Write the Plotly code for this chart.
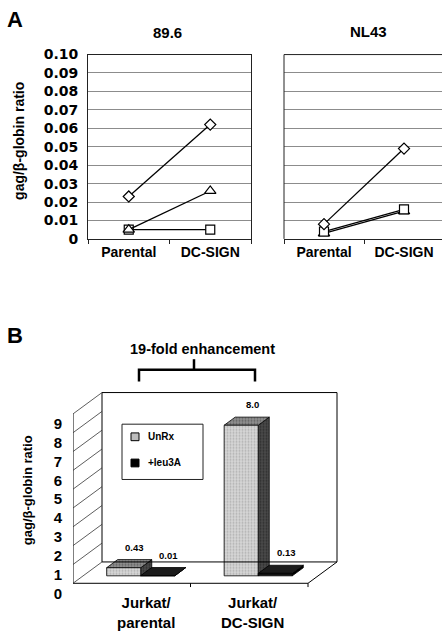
import plotly.graph_objects as go

W, H = 444, 636

# ---------------- data ----------------
categories_a = ["Parental", "DC-SIGN"]
ticks_a = [0, 0.01, 0.02, 0.03, 0.04, 0.05, 0.06, 0.07, 0.08, 0.09, 0.10]
tick_text_a = ["0", "0.01", "0.02", "0.03", "0.04", "0.05", "0.06", "0.07", "0.08", "0.09", "0.10"]

v89_diamond = [0.023, 0.062]
v89_triangle = [0.005, 0.026]
v89_square = [0.005, 0.005]

nl43_diamond = [0.008, 0.049]
nl43_square = [0.004, 0.016]
nl43_triangle = [0.003, 0.015]

categories_b = ["Jurkat/<br>parental", "Jurkat/<br>DC-SIGN"]
series_b = ["UnRx", "+leu3A"]
unrx_values = [0.43, 8.0]
leu3a_values = [0.01, 0.13]
unrx_labels = ["0.43", "8.0"]
leu3a_labels = ["0.01", "0.13"]
ticks_b = [0, 1, 2, 3, 4, 5, 6, 7, 8, 9]


def px(x):
    return x / W


def py(y):
    return 1 - y / H


BOLD = "Liberation Sans"
fig = go.Figure()

# ---------------- panel A ----------------
line_style = dict(color="black", width=1.3)


def add_series(xa, ya, values, symbol, size):
    fig.add_trace(go.Scatter(
        x=categories_a, y=values, mode="lines+markers",
        line=line_style,
        marker=dict(symbol=symbol, size=size, color="white",
                    line=dict(color="black", width=1.2)),
        xaxis=xa, yaxis=ya, showlegend=False, hoverinfo="skip"))


add_series("x", "y", v89_square, "square", 9)
add_series("x", "y", v89_triangle, "triangle-up", 10)
add_series("x", "y", v89_diamond, "diamond", 8.5)
add_series("x2", "y2", nl43_triangle, "triangle-up", 10)
add_series("x2", "y2", nl43_square, "square", 9)
add_series("x2", "y2", nl43_diamond, "diamond", 8.5)

xa_common = dict(type="category", range=[-0.5, 1.5], showline=True, linecolor="#222",
                 linewidth=1, ticks="outside", tickson="boundaries", ticklen=4,
                 tickcolor="#222", showgrid=False, zeroline=False,
                 tickfont=dict(family=BOLD, size=14, color="black", weight="bold"))
ya_common = dict(range=[0, 0.1], tickvals=ticks_a, ticktext=tick_text_a, showgrid=True,
                 gridcolor="#8c8c8c", gridwidth=1, linecolor="#222",
                 linewidth=1, ticks="", zeroline=False)

layout = dict(
    width=W, height=H, margin=dict(l=0, r=0, t=0, b=0),
    paper_bgcolor="white", plot_bgcolor="white", showlegend=False,
    xaxis=dict(domain=[px(88), px(251)], anchor="y", mirror=True, **xa_common),
    yaxis=dict(domain=[py(238), py(48)], anchor="x", mirror=True, showline=True,
               tickfont=dict(family="DejaVu Sans", size=14, color="black", weight="bold"),
               ticklabelstandoff=6, **ya_common),
    xaxis2=dict(domain=[px(284), 1.0], anchor="y2", mirror=False, **xa_common),
    yaxis2=dict(domain=[py(238), py(48)], anchor="x2", showticklabels=False,
                showline=False, mirror=False, **ya_common),
)

# ---------------- panel B (oblique 3-D bars) ----------------
CAT_PX = 117.5
UNIT_PX = 19.4
DX = 29 / CAT_PX          # depth offset in category units
DY = 22 / UNIT_PX         # depth offset in value units
BAR_W = 0.29
D0, D1 = 0.35, 0.73

layout["xaxis3"] = dict(domain=[px(73), px(345)], anchor="y3",
                        range=[-0.5, -0.5 + (345 - 73) / CAT_PX],
                        visible=False)
layout["yaxis3"] = dict(domain=[py(600), py(390)], anchor="x3",
                        range=[(593 - 600) / UNIT_PX, (593 - 390) / UNIT_PX],
                        tickvals=ticks_b, ticktext=[str(t) for t in ticks_b],
                        showgrid=False, zeroline=False, showline=False, ticks="",
                        ticklabelstandoff=10, ticklabelshift=10,
                        tickfont=dict(family=BOLD, size=15, color="black", weight="bold"))

shapes = []
# top and left borders of the NL43 panel (its right side is open, cut by the page edge)
shapes.append(dict(xref="x2 domain", yref="y2 domain", type="line", x0=0, x1=1, y0=1, y1=1,
                   line=dict(color="#222", width=1)))
shapes.append(dict(xref="x2 domain", yref="y2 domain", type="line", x0=0, x1=0, y0=0, y1=1,
                   line=dict(color="#222", width=1)))
shapes.append(dict(xref="x2 domain", yref="y2 domain", type="line", x0=1, x1=1, y0=-0.02, y1=1.02,
                   line=dict(color="white", width=4)))
frame = dict(xref="x3", yref="y3", type="line", line=dict(color="black", width=1))
ymax = ticks_b[-1]
# back wall
shapes.append(dict(xref="x3", yref="y3", type="rect", x0=-0.5 + DX, x1=1.5 + DX,
                   y0=DY, y1=ymax + DY, line=dict(color="black", width=1)))
# front vertical axis and front floor edge, right floor edge
shapes.append(dict(frame, x0=-0.5, x1=-0.5, y0=0, y1=ymax))
shapes.append(dict(frame, x0=-0.5, x1=1.5, y0=0, y1=0))
shapes.append(dict(frame, x0=1.5, x1=1.5 + DX, y0=0, y1=DY))
# side-wall grid lines
for t in ticks_b:
    shapes.append(dict(xref="x3", yref="y3", type="line", x0=-0.5, x1=-0.5 + DX,
                       y0=t, y1=t + DY, line=dict(color="#333", width=0.8)))
# category boundary ticks on floor
for b in [0.5, 1.5]:
    shapes.append(dict(frame, x0=b, x1=b, y0=0, y1=-0.2))


def poly(pts):
    xs = [p[0] for p in pts] + [pts[0][0]]
    ys = [p[1] for p in pts] + [pts[0][1]]
    return xs, ys


def add_bar(x0, v, front, top, side):
    x1 = x0 + BAR_W
    a0, a1 = DX * D0, DY * D0
    b0, b1 = DX * D1, DY * D1
    faces = [
        ([(x1 + a0, a1), (x1 + b0, b1), (x1 + b0, v + b1), (x1 + a0, v + a1)], side),
        ([(x0 + a0, v + a1), (x1 + a0, v + a1), (x1 + b0, v + b1), (x0 + b0, v + b1)], top),
        ([(x0 + a0, a1), (x1 + a0, a1), (x1 + a0, v + a1), (x0 + a0, v + a1)], front),
    ]
    for pts, style in faces:
        xs, ys = poly(pts)
        fig.add_trace(go.Scatter(
            x=xs, y=ys, mode="lines", fill="toself",
            fillcolor=style["bg"],
            fillpattern=dict(shape=".", bgcolor=style["bg"], fgcolor=style["fg"],
                             size=3, solidity=0.35) if style.get("pat") else None,
            line=dict(color="black", width=0.8),
            xaxis="x3", yaxis="y3", showlegend=False, hoverinfo="skip"))


unrx_style = dict(front=dict(bg="#d6d6d6", fg="#8a8a8a", pat=True),
                  top=dict(bg="#8f8f8f", fg="#333333", pat=True),
                  side=dict(bg="#4a4a4a", fg="#111111", pat=True))
leu_style = dict(front=dict(bg="#111111", fg="#000000"),
                 top=dict(bg="#1c1c1c", fg="#000000"),
                 side=dict(bg="#000000", fg="#000000"))

annotations = []
lab_font = dict(family=BOLD, size=9.5, color="black", weight="bold")
for i in range(len(categories_b)):
    x_un = i - 0.30
    x_le = x_un + BAR_W
    add_bar(x_un, unrx_values[i], **unrx_style)
    add_bar(x_le, leu3a_values[i], **leu_style)
    for xs0, v, txt in [(x_un, unrx_values[i], unrx_labels[i]),
                        (x_le, leu3a_values[i], leu3a_labels[i])]:
        annotations.append(dict(xref="x3", yref="y3", x=xs0 + BAR_W / 2 + DX * D1,
                                y=v + DY * D1, text=txt, showarrow=False,
                                yanchor="bottom", yshift=5, font=lab_font))

# category labels of panel B
cat_shift_b = [14, 3]
for i, c in enumerate(categories_b):
    annotations.append(dict(xref="x3", yref="paper", x=i, y=py(623), text=c,
                            showarrow=False, xshift=cat_shift_b[i], yanchor="middle",
                            font=dict(family=BOLD, size=15, color="black", weight="bold")))

# legend (panel B)
shapes.append(dict(xref="paper", yref="paper", type="rect", x0=px(122), x1=px(203),
                   y0=py(486), y1=py(429), line=dict(color="#222", width=1),
                   fillcolor="white"))
legend_fills = ["#bdbdbd", "black"]
legend_y = [442, 469]
for name, col, yy in zip(series_b, legend_fills, legend_y):
    shapes.append(dict(xref="paper", yref="paper", type="rect", x0=px(131), x1=px(139),
                       y0=py(yy + 4), y1=py(yy - 4), line=dict(color="black", width=1),
                       fillcolor=col))
    annotations.append(dict(xref="paper", yref="paper", x=px(146), y=py(yy), text=name,
                            showarrow=False, xanchor="left", yanchor="middle",
                            font=dict(family=BOLD, size=10, color="black", weight="bold")))

# bracket
shapes.append(dict(xref="paper", yref="paper", type="path",
                   path=f"M {px(139)} {py(385)} L {px(139)} {py(373)} L {px(255)} {py(373)} L {px(255)} {py(385)}",
                   line=dict(color="black", width=2.5)))
shapes.append(dict(xref="paper", yref="paper", type="line", x0=px(194), x1=px(194),
                   y0=py(373), y1=py(362), line=dict(color="black", width=2.5)))

# text annotations
def txt(x, y, s, size, angle=0, family=BOLD):
    annotations.append(dict(xref="paper", yref="paper", x=px(x), y=py(y), text=s,
                            showarrow=False, xanchor="center", yanchor="middle",
                            textangle=angle,
                            font=dict(family=family, size=size, color="black", weight="bold")))


txt(15, 12, "A", 22)
txt(15, 338, "B", 22)
txt(167, 25, "89.6", 15)
txt(368, 24, "NL43", 15)
txt(19, 137, "gag/β-globin ratio", 14, -90)
txt(27, 497, "gag/β-globin ratio", 13, -90)
txt(202, 351, "19-fold enhancement", 14.5)

layout["shapes"] = shapes
layout["annotations"] = annotations
fig.update_layout(**layout)
fig.write_html("out.html")
